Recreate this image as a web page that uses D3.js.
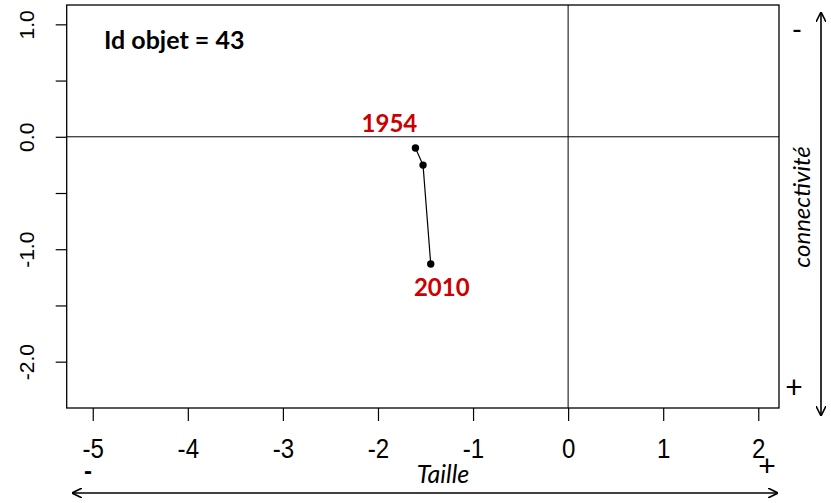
<!DOCTYPE html>
<html><head><meta charset="utf-8">
<script src="https://cdn.jsdelivr.net/npm/d3@7"></script>
<style>body{margin:0;background:#fff;} svg{display:block;}</style>
</head><body>
<svg id="c" width="831" height="503"></svg>
<script>
const years = ["1954", "1970", "2010"];
const tailleValues = [-1.606, -1.526, -1.445];
const connectiviteValues = [-0.100, -0.252, -1.132];
const xTicks = [-5, -4, -3, -2, -1, 0, 1, 2];
const yTicks = [-2, -1.5, -1, -0.5, 0, 0.5, 1];
const yLabelTicks = [-2, -1, 0, 1];
const title = "Id objet = 43";

const svg = d3.select("#c");
const L = 66.7, R = 779, T = 5, B = 408;
const x = d3.scaleLinear().domain([-5.274, 2.218]).range([L, R]);
const y = d3.scaleLinear().domain([-2.412, 1.172]).range([B, T]);
const axisFont = "'Liberation Sans', Arial, sans-serif";
const calFont = "Lato, 'Open Sans', sans-serif";

// reference lines
svg.append("line").attr("x1", L).attr("x2", R).attr("y1", y(0)).attr("y2", y(0)).attr("stroke", "#000").attr("stroke-width", 1);
svg.append("line").attr("x1", x(0)).attr("x2", x(0)).attr("y1", T).attr("y2", B).attr("stroke", "#000").attr("stroke-width", 1);

// box
svg.append("rect").attr("x", L).attr("y", T).attr("width", R - L).attr("height", B - T)
  .attr("fill", "none").attr("stroke", "#000").attr("stroke-width", 1.3);

// x axis
const gx = svg.append("g").attr("transform", `translate(0,${B})`)
  .call(d3.axisBottom(x).tickValues(xTicks).tickSize(13).tickPadding(17).tickFormat(d => String(d)));
gx.select(".domain").remove();
gx.selectAll("line").attr("stroke", "#000").attr("stroke-width", 1.2);
gx.selectAll(".tick text").attr("font-family", axisFont).attr("font-size", 28).attr("fill", "#000")
  .attr("dy", "0.71em").style("transform", "scaleX(0.86)");

// y axis
const gy = svg.append("g").attr("transform", `translate(${L},0)`)
  .call(d3.axisLeft(y).tickValues(yTicks).tickSize(11)
    .tickFormat(d => yLabelTicks.includes(d) ? d.toFixed(1) : ""));
gy.select(".domain").remove();
gy.selectAll("line").attr("stroke", "#000").attr("stroke-width", 1.2);
gy.selectAll("text").attr("font-family", axisFont).attr("font-size", 21).attr("fill", "#000")
  .attr("x", null).attr("dy", null).attr("text-anchor", "middle")
  .attr("transform", "translate(-33,0) rotate(-90)");

// trajectory
const pts = years.map((yr, i) => ({yr, t: tailleValues[i], c: connectiviteValues[i]}));
svg.append("path").datum(pts)
  .attr("d", d3.line().x(d => x(d.t)).y(d => y(d.c)))
  .attr("fill", "none").attr("stroke", "#000").attr("stroke-width", 1.2);
svg.selectAll("circle.pt").data(pts).enter().append("circle")
  .attr("cx", d => x(d.t)).attr("cy", d => y(d.c)).attr("r", 3.7).attr("fill", "#000");

// year labels
const first = pts[0], last = pts[pts.length - 1];
svg.append("text").attr("x", x(first.t) - 26).attr("y", y(first.c) - 16)
  .attr("text-anchor", "middle").attr("font-family", calFont).attr("font-weight", "bold")
  .attr("font-size", 24).attr("fill", "#cc0000").text(first.yr);
svg.append("text").attr("x", x(last.t) + 11).attr("y", y(last.c) + 32)
  .attr("text-anchor", "middle").attr("font-family", calFont).attr("font-weight", "bold")
  .attr("font-size", 24).attr("fill", "#cc0000").text(last.yr);

// title
svg.append("text").attr("x", 104).attr("y", 49).attr("font-family", calFont).attr("font-weight", "bold")
  .attr("font-size", 25).attr("fill", "#000").text(title);

// arrows
const defs = svg.append("defs");
defs.append("marker").attr("id", "ah").attr("viewBox", "0 0 10 10").attr("refX", 9).attr("refY", 5)
  .attr("markerWidth", 10).attr("markerHeight", 10).attr("markerUnits", "userSpaceOnUse").attr("orient", "auto-start-reverse")
  .append("path").attr("d", "M0,0 L10,5 L0,10").attr("fill", "none").attr("stroke", "#000").attr("stroke-width", 1.6);

svg.append("line").attr("x1", 73).attr("x2", 777).attr("y1", 493).attr("y2", 493)
  .attr("stroke", "#000").attr("stroke-width", 1.6)
  .attr("marker-start", "url(#ah)").attr("marker-end", "url(#ah)");
svg.append("line").attr("x1", 821).attr("x2", 821).attr("y1", 13).attr("y2", 415)
  .attr("stroke", "#000").attr("stroke-width", 1.6)
  .attr("marker-start", "url(#ah)").attr("marker-end", "url(#ah)");

// axis names
svg.append("text").attr("x", 443).attr("y", 483).attr("text-anchor", "middle")
  .attr("font-family", calFont).attr("font-style", "italic").attr("font-size", 25).text("Taille");
svg.append("text").attr("transform", "translate(810,207) rotate(-90)").attr("text-anchor", "middle")
  .attr("font-family", calFont).attr("font-style", "italic").attr("font-size", 24).text("connectivité");

// signs
svg.append("text").attr("x", 88).attr("y", 479).attr("text-anchor", "middle").attr("font-family", axisFont).attr("font-weight", "bold").attr("font-size", 24).text("-");
svg.append("text").attr("x", 767).attr("y", 476).attr("text-anchor", "middle").attr("font-family", axisFont).attr("font-size", 30).text("+");
svg.append("text").attr("x", 797).attr("y", 40).attr("text-anchor", "middle").attr("font-family", calFont).attr("font-size", 28).text("-");
svg.append("text").attr("x", 794).attr("y", 398).attr("text-anchor", "middle").attr("font-family", calFont).attr("font-size", 30).text("+");
</script>
</body></html>
